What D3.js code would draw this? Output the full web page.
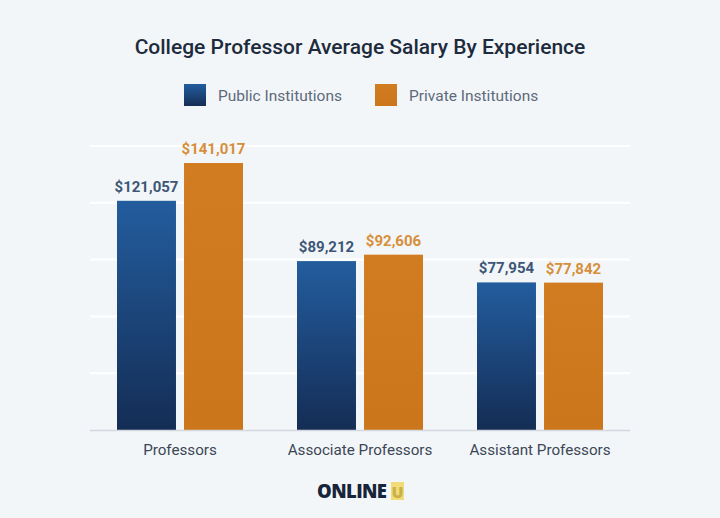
<!DOCTYPE html>
<html>
<head>
<meta charset="utf-8">
<script src="https://cdn.jsdelivr.net/npm/d3@7"></script>
<style>
html,body{margin:0;padding:0;background:#f3f6f9;}
svg{display:block;}
</style>
</head>
<body>
<script>
const categories = ["Professors", "Associate Professors", "Assistant Professors"];
const seriesNames = ["Public Institutions", "Private Institutions"];
const publicValues = [121057, 89212, 77954];
const privateValues = [141017, 92606, 77842];
const gridTicks = [30000, 60000, 90000, 120000, 150000];
const title = "College Professor Average Salary By Experience";

const W = 720, H = 518;

const svg = d3.select("body").append("svg").attr("width", W).attr("height", H);
const defs = svg.append("defs");
const g1 = defs.append("linearGradient").attr("id","pubGrad").attr("x1",0).attr("y1",0).attr("x2",0).attr("y2",1);
g1.append("stop").attr("offset","0%").attr("stop-color","#235d9e");
g1.append("stop").attr("offset","100%").attr("stop-color","#142d55");
const g2 = defs.append("linearGradient").attr("id","privGrad").attr("x1",0).attr("y1",0).attr("x2",0).attr("y2",1);
g2.append("stop").attr("offset","0%").attr("stop-color","#d27c22");
g2.append("stop").attr("offset","100%").attr("stop-color","#cc761c");

svg.append("rect").attr("x",0).attr("y",0).attr("width",W).attr("height",H).attr("rx",8).attr("fill","#f3f6f9");

const data = categories.map((c,i)=>({cat:c, values:[
  {key:"pub", name:seriesNames[0], v:publicValues[i]},
  {key:"priv", name:seriesNames[1], v:privateValues[i]}
]}));

const x0 = d3.scaleBand().domain(categories).range([90,630]).paddingInner(0.3).paddingOuter(0.15);
const x1 = d3.scaleBand().domain(["pub","priv"]).range([0,x0.bandwidth()]).paddingInner(0.12);
const y = d3.scaleLinear().domain([0,150000]).range([430,146]);

// grid
svg.append("g").selectAll("line").data(gridTicks).join("line")
  .attr("x1",90).attr("x2",630)
  .attr("y1",d=>y(d)).attr("y2",d=>y(d))
  .attr("stroke","#ffffff").attr("stroke-width",2);

// title
svg.append("text").attr("x",360).attr("y",54).attr("text-anchor","middle")
  .attr("font-family","Roboto, 'Open Sans', sans-serif").attr("font-weight",500)
  .attr("font-size",21).attr("fill","#1d2b3c").text(title);

// legend
const legend = [{key:"pub", fill:"url(#pubGrad)", label:seriesNames[0], x:184},
                {key:"priv", fill:"url(#privGrad)", label:seriesNames[1], x:375}];
const lg = svg.append("g").selectAll("g").data(legend).join("g")
  .attr("transform",d=>`translate(${d.x},84)`);
lg.append("rect").attr("width",22).attr("height",22).attr("fill",d=>d.fill);
lg.append("text").attr("x",34).attr("y",16.5).attr("font-family","Roboto, sans-serif")
  .attr("font-size",15.5).attr("fill","#5d6a7a").text(d=>d.label);

// bars
const groups = svg.append("g").selectAll("g").data(data).join("g")
  .attr("transform",d=>`translate(${x0(d.cat)},0)`);
groups.selectAll("rect").data(d=>d.values).join("rect")
  .attr("x",d=>x1(d.key)).attr("width",x1.bandwidth())
  .attr("y",d=>y(d.v)).attr("height",d=>y(0)-y(d.v))
  .attr("fill",d=>d.key==="pub"?"url(#pubGrad)":"url(#privGrad)");
groups.selectAll("text").data(d=>d.values).join("text")
  .attr("x",d=>x1(d.key)+x1.bandwidth()/2).attr("y",d=>y(d.v)-9)
  .attr("text-anchor","middle").attr("font-family","Roboto, sans-serif")
  .attr("font-weight",700).attr("font-size",15)
  .attr("fill",d=>d.key==="pub"?"#3d5676":"#d68f3a")
  .text(d=>"$"+d3.format(",")(d.v));

// axis baseline
svg.append("line").attr("x1",90).attr("x2",630).attr("y1",y(0)+0.5).attr("y2",y(0)+0.5)
  .attr("stroke","#d3d8de").attr("stroke-width",1.5);

// category labels
svg.append("g").selectAll("text").data(categories).join("text")
  .attr("x",d=>x0(d)+x0.bandwidth()/2).attr("y",455).attr("text-anchor","middle")
  .attr("font-family","Roboto, sans-serif").attr("font-size",15.2).attr("fill","#3b4756")
  .text(d=>d);

// logo
const logo = svg.append("g");
logo.append("text").attr("x",317).attr("y",498).attr("font-family","'Open Sans', Lato, sans-serif")
  .attr("font-weight",800).attr("font-size",18.5).attr("fill","#17243a").attr("letter-spacing",-0.6).text("ONLINE");
logo.append("rect").attr("x",391).attr("y",482).attr("width",13).attr("height",18).attr("fill","#f1dc78");
logo.append("text").attr("x",397.5).attr("y",498).attr("text-anchor","middle").attr("font-family","'Open Sans', sans-serif")
  .attr("font-weight",800).attr("font-size",16).attr("fill","#c9b14a").text("U");
</script>
</body>
</html>
